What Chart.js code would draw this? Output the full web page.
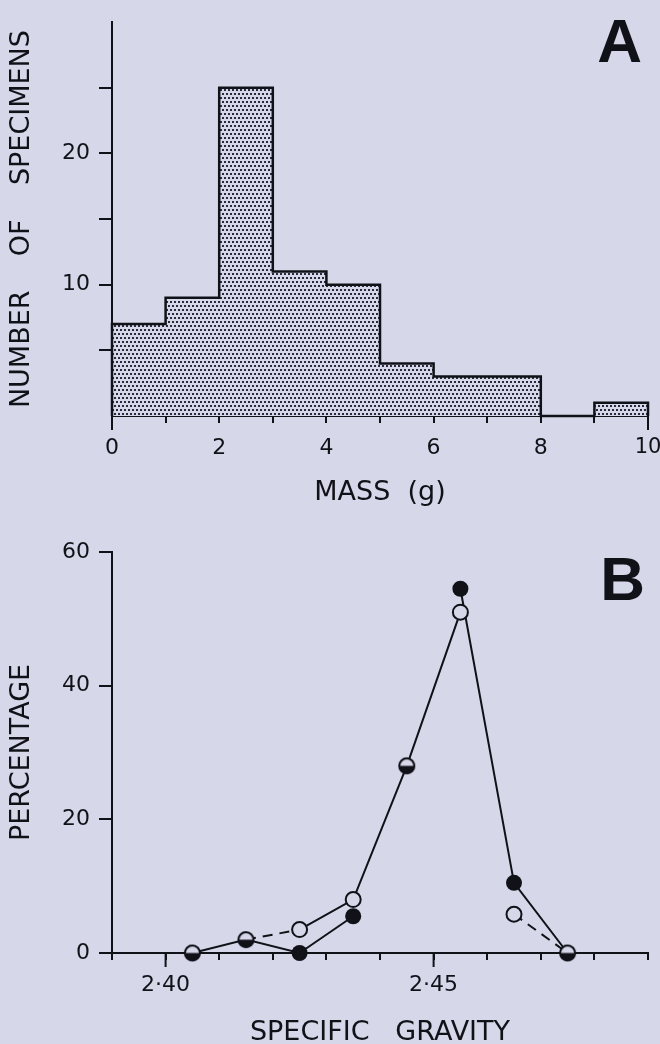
<!DOCTYPE html>
<html>
<head>
<meta charset="utf-8">
<script src="https://cdn.jsdelivr.net/npm/chart.js@4.4.1/dist/chart.umd.min.js"></script>
<style>
    html, body { margin: 0; padding: 0; background: #d6d8ea; overflow: hidden; }
    canvas { display: block; }
</style>
</head>
<body>
<canvas id="mass-chart" width="660" height="520"></canvas>
<canvas id="gravity-chart" width="660" height="540"></canvas>
<script>
// panel A - histogram of specimen mass
const massEdges = [0, 1, 2, 3, 4, 5, 6, 8, 9, 10]
const massCounts = [7, 9, 25, 11, 10, 4, 3, 0, 1]
const massTickLabels = [0, 2, 4, 6, 8, 10]
const countTickLabels = [10, 20]

// panel B - specific gravity, filled vs open circles
const gravity = [2.405, 2.415, 2.425, 2.435, 2.445, 2.455, 2.465, 2.475]
const filledPct = [0, 2, 0, 5.5, 28, 54.5, 10.5, 0]
const openPct = [0, 2, 3.5, 8, 28, 51, 5.8, 0]
const gravityTickLabels = [2.40, 2.45]
const pctTickLabels = [0, 20, 40, 60]

// which segments are drawn and how
const filledSegs = ['solid', 'solid', 'solid', 'none', 'none', 'solid', 'solid']
const openSegs = ['none', 'dash', 'solid', 'solid', 'solid', 'none', 'dash']

const ink = '#111118'
const bg = '#d6d8ea'
const family = '"DejaVu Sans", Verdana, sans-serif'

function stipple() {
    const c = document.createElement('canvas')
    c.width = 4
    c.height = 8
    const g = c.getContext('2d')
    g.fillStyle = bg
    g.fillRect(0, 0, 4, 8)
    g.fillStyle = '#2a2a3c'
    g.fillRect(0, 1, 2, 2)
    g.fillRect(2, 5, 2, 2)
    return g.createPattern(c, 'repeat')
}

function halfDot(r) {
    const size = Math.ceil(2 * r + 4)
    const c = document.createElement('canvas')
    c.width = size
    c.height = size
    const g = c.getContext('2d')
    const m = size / 2
    g.fillStyle = bg
    g.beginPath(); g.arc(m, m, r, 0, Math.PI * 2); g.fill()
    g.fillStyle = ink
    g.beginPath(); g.arc(m, m, r, 0, Math.PI); g.fill()
    g.lineWidth = 2
    g.strokeStyle = ink
    g.beginPath(); g.arc(m, m, r, 0, Math.PI * 2); g.stroke()
    return c
}

const panelLetter = {
    id: 'panelLetter',
    afterDraw(chart, args, opts) {
        const { ctx } = chart
        const xs = chart.scales.x
        ctx.save()
        ctx.strokeStyle = ink
        ctx.lineWidth = 2
        opts.longTicks.forEach(v => {
            const px = xs.getPixelForValue(v)
            ctx.beginPath()
            ctx.moveTo(px, xs.top)
            ctx.lineTo(px, xs.top + 14)
            ctx.stroke()
        })
        ctx.font = 'bold 62px "Liberation Sans", Arial, sans-serif'
        ctx.fillStyle = ink
        ctx.textAlign = 'right'
        ctx.textBaseline = 'alphabetic'
        ctx.fillText(opts.text, opts.x, opts.y)
        ctx.restore()
    }
}

function axisBase() {
    return {
        border: { display: true, color: ink, width: 2 },
        grid: { drawOnChartArea: false, drawTicks: true, color: ink, lineWidth: 2 },
        ticks: { color: ink, font: { family, size: 22 }, autoSkip: false, maxRotation: 0 },
        title: { display: true, color: ink, font: { family, size: 27 } }
    }
}

// x axis: fixed height, and don't let edge labels push the plot area in
function fixXAxis(height) {
    return s => {
        s.height = height
        s.paddingLeft = 0
        s.paddingRight = 0
    }
}

function renderMassChart() {
    const points = [{ x: massEdges[0], y: 0 }]
    for (let i = 0; i < massCounts.length; i++) {
        points.push({ x: massEdges[i], y: massCounts[i] })
    }
    const last = massEdges[massEdges.length - 1]
    points.push({ x: last, y: massCounts[massCounts.length - 1] })
    points.push({ x: last, y: 0 })

    const x = axisBase()
    x.type = 'linear'
    x.min = 0
    x.max = 10
    x.grid.tickLength = 7
    x.ticks.stepSize = 1
    x.ticks.padding = 12
    // the last label sits on the page edge, keep it a touch narrower
    x.ticks.font = ctx => ({ family, size: ctx.tick && ctx.tick.value === 10 ? 21 : 22 })
    x.ticks.callback = v => massTickLabels.includes(v) ? String(v) : ''
    x.title.text = 'MASS  (g)'
    x.title.padding = { top: 0, bottom: 11 }
    x.afterFit = fixXAxis(104)

    const y = axisBase()
    y.min = 0
    y.max = 30
    y.grid.tickLength = 13
    y.grid.tickColor = ctx => (ctx.tick && (ctx.tick.value === 0 || ctx.tick.value === 30)) ? 'rgba(0,0,0,0)' : ink
    y.ticks.stepSize = 5
    y.ticks.padding = 9
    y.ticks.callback = v => countTickLabels.includes(v) ? String(v) : ''
    y.title.text = 'NUMBER    OF    SPECIMENS'
    y.title.padding = { top: 6, bottom: 0 }
    y.afterFit = s => { s.width = 112 }

    new Chart(document.getElementById('mass-chart'), {
        type: 'line',
        data: {
            datasets: [{
                data: points,
                stepped: 'before',
                borderColor: ink,
                borderWidth: 2.5,
                backgroundColor: stipple(),
                fill: 'origin',
                pointRadius: 0,
                clip: false
            }]
        },
        options: {
            responsive: false,
            animation: false,
            layout: { padding: { top: 14, right: 12, left: 0, bottom: 0 } },
            scales: { x, y },
            plugins: {
                legend: { display: false },
                tooltip: { enabled: false },
                panelLetter: { text: 'A', x: 642, y: 62, longTicks: [0, 10] }
            }
        },
        plugins: [panelLetter]
    })
}

function renderGravityChart() {
    const half = halfDot(7.5)
    const segStyle = segs => ({
        borderColor: ctx => segs[ctx.p0DataIndex] === 'none' ? 'rgba(0,0,0,0)' : ink,
        borderDash: ctx => segs[ctx.p0DataIndex] === 'dash' ? [10, 7] : []
    })

    const x = axisBase()
    x.type = 'linear'
    x.min = 2.39
    x.max = 2.49
    x.grid.tickLength = 7
    x.ticks.stepSize = 0.01
    x.ticks.padding = 12
    x.ticks.callback = v => {
        const t = gravityTickLabels.find(g => Math.abs(g - v) < 1e-6)
        return t === undefined ? '' : t.toFixed(2).replace('.', '·')
    }
    x.title.text = 'SPECIFIC   GRAVITY'
    x.title.padding = { top: 0, bottom: 11 }
    x.afterFit = fixXAxis(107)

    const y = axisBase()
    y.min = 0
    y.max = 60
    y.grid.tickLength = 13
    y.ticks.stepSize = 20
    y.ticks.padding = 9
    y.ticks.callback = v => pctTickLabels.includes(v) ? String(v) : ''
    y.title.text = 'PERCENTAGE'
    y.title.padding = { top: 6, bottom: 0 }
    y.afterFit = s => { s.width = 112 }

    new Chart(document.getElementById('gravity-chart'), {
        type: 'line',
        data: {
            datasets: [{
                data: gravity.map((g, i) => ({ x: g, y: filledPct[i] })),
                order: 1,
                borderColor: ink,
                borderWidth: 2,
                segment: segStyle(filledSegs),
                pointRadius: 8,
                pointBorderWidth: 0,
                pointBackgroundColor: ink,
                clip: false
            }, {
                data: gravity.map((g, i) => ({ x: g, y: openPct[i] })),
                order: 0,
                borderColor: ink,
                borderWidth: 2,
                segment: segStyle(openSegs),
                pointStyle: ctx => filledPct[ctx.dataIndex] === openPct[ctx.dataIndex] ? half : 'circle',
                pointRadius: 7.5,
                pointBorderWidth: 2,
                pointBorderColor: ink,
                pointBackgroundColor: bg,
                clip: false
            }]
        },
        options: {
            responsive: false,
            animation: false,
            layout: { padding: { top: 32, right: 12, left: 0, bottom: 0 } },
            scales: { x, y },
            plugins: {
                legend: { display: false },
                tooltip: { enabled: false },
                panelLetter: { text: 'B', x: 645, y: 80, longTicks: [2.40, 2.45] }
            }
        },
        plugins: [panelLetter]
    })
}

addEventListener('load', () => {
    renderMassChart()
    renderGravityChart()
})
</script>
</body>
</html>
